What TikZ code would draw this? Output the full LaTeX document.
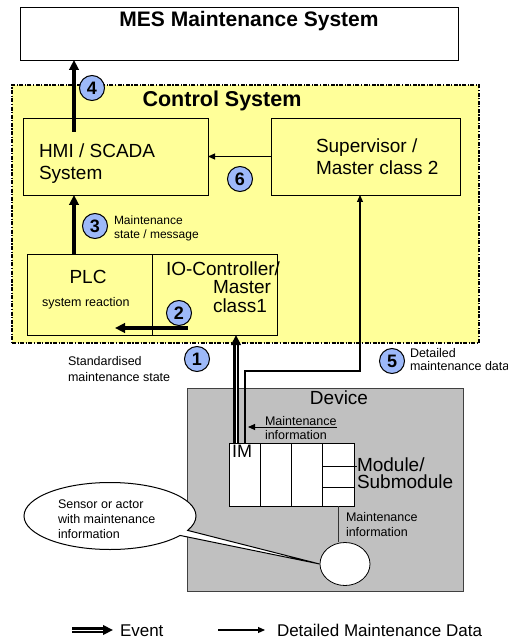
\documentclass[tikz,border=0pt]{standalone}
\usepackage{fontspec}
\setmainfont{Liberation Sans}
\usetikzlibrary{arrows.meta,shapes.geometric,shapes.callouts,calc}
\definecolor{csyellow}{HTML}{FFFF99}
\definecolor{stepblue}{HTML}{9DB9F9}
\definecolor{devgray}{HTML}{C0C0C0}
\newcommand{\fsz}[2]{\fontsize{#1}{#2}\selectfont}

\begin{document}
\begin{tikzpicture}[x=1pt,y=-1pt,
  box/.style={draw=black, line width=0.8pt, inner sep=0pt, outer sep=0pt, anchor=north west},
  txt/.style={inner sep=0pt, outer sep=0pt, anchor=base west, align=left},
  ctxt/.style={inner sep=0pt, outer sep=0pt, anchor=base},
  badge/.style={circle, draw=black, line width=1pt, fill=stepblue, minimum size=25pt,
                inner sep=0pt, font=\bfseries\fsz{18}{18}},
  event/.style={line width=3.5pt, -{Triangle[length=10pt,width=9.5pt]}},
  dbl/.style={double=white, double distance=0.9pt, line width=2.2pt,
              -{Triangle[length=10pt,width=9.5pt]}},
  data/.style={line width=1.1pt, -{Triangle[length=7pt,width=6pt]}},
]
\useasboundingbox (0,0) rectangle (507,644);

% MES system
\node[box, minimum width=438pt, minimum height=53pt] (mes) at (20,7) {};
\node[ctxt, font=\bfseries\fsz{21}{25}] (mest) at (249,27) {MES Maintenance System};

% Control system area
\node[box, line width=1.3pt, dash pattern=on 4pt off 1.5pt on 1.2pt off 1.5pt,
      fill=csyellow, minimum width=467pt, minimum height=258pt] (cs) at (12,85) {};
\node[ctxt, font=\bfseries\fsz{21.5}{25}] (cst) at (222,107) {Control System};

\node[box, minimum width=185pt, minimum height=77pt] (hmi) at (23,118) {};
\node[box, minimum width=189pt, minimum height=77pt] (sup) at (271,118) {};
\node[box, minimum width=125pt, minimum height=81pt] (plc) at (27,254) {};
\node[box, minimum width=125pt, minimum height=81pt] (ioc) at (152,254) {};

% multi-line texts are placed by the baseline of their last line
\node[txt, font=\fsz{19}{22}] (hmit) at (39,180) {HMI / SCADA\\System};
\node[txt, font=\fsz{19}{22}] (supt) at (316,175) {Supervisor /\\Master class 2};
\node[ctxt, font=\fsz{19}{22}] (plct) at (88,283) {PLC};
\node[txt, font=\fsz{12.5}{15}] (plcs) at (42,306) {system reaction};
\node[txt, font=\fsz{19}{18.5}] (ioct) at (166,312)
  {IO-Controller/\\\hspace*{47pt}Master\\\hspace*{47pt}class1};

% Device
\node[box, draw=black!75, fill=devgray, minimum width=276pt, minimum height=203pt] (dev) at (187,388) {};
\node[ctxt, font=\fsz{19}{22}] (devt) at (339,404) {Device};

\node[box, fill=white, minimum width=31.25pt, minimum height=63pt] (col1) at (229,443) {};
\node[box, fill=white, minimum width=31.25pt, minimum height=63pt] (col2) at (260.25,443) {};
\node[box, fill=white, minimum width=31.25pt, minimum height=63pt] (col3) at (291.5,443) {};
\node[box, fill=white, minimum width=31.25pt, minimum height=63pt] (col4) at (322.75,443) {};
\draw[line width=0.8pt] (col4.west |- 0,466) -- ++(34,0);
\draw[line width=0.8pt] (col4.west |- 0,487) -- ++(32,0);
\node[txt, font=\fsz{18}{18}] (imt) at (232,457) {IM};
\node[txt, font=\fsz{19}{17}] (modt) at (357,488) {Module/\\Submodule};

\node[ellipse, draw=black, line width=0.8pt, fill=white, minimum width=50pt,
      minimum height=43pt, inner sep=0pt] (sensor) at (345,564) {};
\draw[line width=0.8pt, draw=black!80] (col4.south) -- (col4.south |- sensor.north);
\node[txt, font=\fsz{12.5}{15}] (mi2) at (346,536) {Maintenance\\information};

% internal maintenance information arrow
\coordinate (mia) at (337,427);
\coordinate (mib) at (248,427);
\draw[data, line width=0.9pt] (mia) -- (mib);
\node[txt, font=\fsz{12.5}{14}] (mi1) at (265,439) {Maintenance\\information};

% callout
\node[ellipse callout, draw=black, line width=1pt, fill=white, minimum width=172pt,
      minimum height=67pt, callout absolute pointer={(sensor.west)},
      callout pointer arc=10] (bubble) at (110,516) {};
\node[txt, font=\fsz{12.5}{15}] (bubt) at (58,538) {Sensor or actor\\with maintenance\\information};

% connectors
\coordinate (a4) at (74,132);
\draw[event] (a4) -- (a4 |- mes.south);
\coordinate (a3) at (74,300);
\draw[event] (a3 |- plc.north) -- (a3 |- hmi.south);
\coordinate (a2s) at (188,328);
\coordinate (a2e) at (115,328);
\draw[event] (a2s) -- (a2e);
\draw[data] (sup.west) -- (hmi.east);
\coordinate (e1) at (236,400);
\draw[dbl] (col1.north -| e1) -- (ioc.south -| e1);
\coordinate (d5) at (245,371);
\coordinate (d5b) at (360,371);
\draw[data] (col1.north -| d5) -- (d5) -- (d5b) -- (d5b |- sup.south);

% step badges
\node[badge] (b4) at (92,88) {4};
\node[badge] (b6) at (240,179) {6};
\node[badge] (b3) at (95,226) {3};
\node[badge] (b2) at (179,313) {2};
\node[badge] (b1) at (197,359) {1};
\node[badge] (b5) at (392,361) {5};

\node[txt, font=\fsz{12}{14}] (t3) at (114,238) {Maintenance\\state / message};
\node[txt, font=\fsz{12.5}{16}] (t1) at (68,381) {Standardised\\maintenance state};
\node[txt, font=\fsz{12.5}{13}] (t5) at (410,370) {Detailed\\maintenance data};

% legend
\coordinate (ev1) at (72,630);
\coordinate (ev2) at (113,630);
\draw[dbl] (ev1) -- (ev2);
\node[txt, font=\fsz{17}{17}] (evt) at (120,636) {Event};
\coordinate (dd1) at (218,630);
\coordinate (dd2) at (265,630);
\draw[data] (dd1) -- (dd2);
\node[txt, font=\fsz{17}{17}] (ddt) at (277,636) {Detailed Maintenance Data};
\end{tikzpicture}
\end{document}
